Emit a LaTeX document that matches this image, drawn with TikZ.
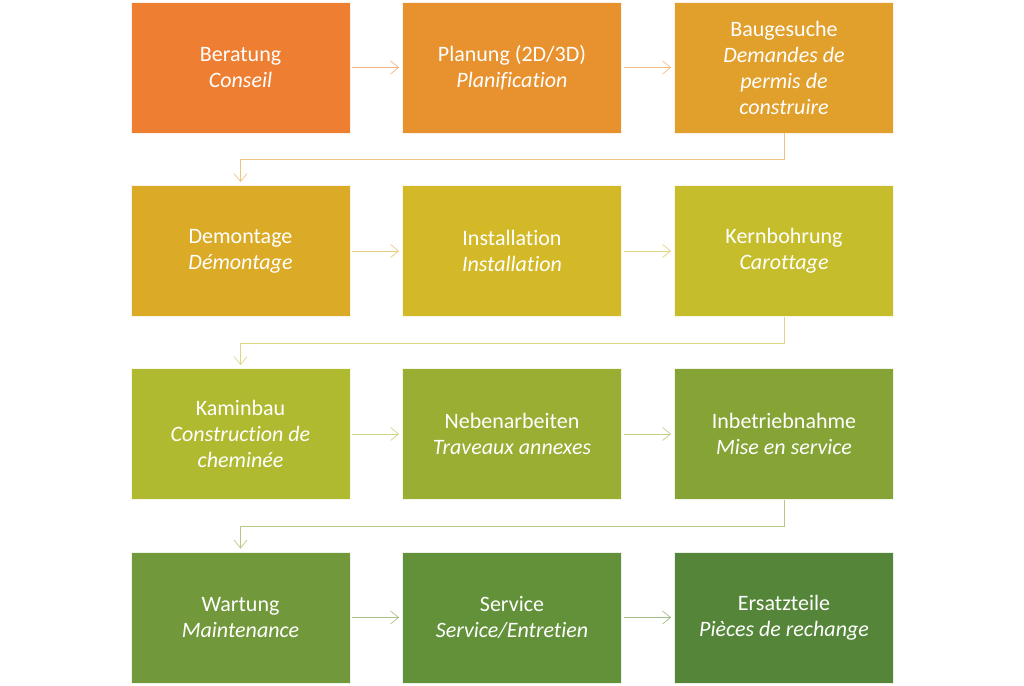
\documentclass[tikz,border=0pt]{standalone}
\usepackage{fontspec}
\setmainfont{Carlito}[Ligatures={NoCommon}]
\usetikzlibrary{arrows.meta}
\definecolor{cA}{HTML}{EE7F32}
\definecolor{cB}{HTML}{E8922F}
\definecolor{cC}{HTML}{E19F2C}
\definecolor{cD}{HTML}{DBAB27}
\definecolor{cE}{HTML}{D3B828}
\definecolor{cF}{HTML}{C6BD2D}
\definecolor{cG}{HTML}{B0BA30}
\definecolor{cH}{HTML}{99AE33}
\definecolor{cI}{HTML}{86A436}
\definecolor{cJ}{HTML}{71983A}
\definecolor{cK}{HTML}{63913A}
\definecolor{cL}{HTML}{548539}
\begin{document}
\begin{tikzpicture}[x=1pt, y=1pt,
  box/.style={fill=#1, draw=#1!12!white, line width=0.8pt, minimum width=219pt, minimum height=131pt,
    inner sep=0pt, text=white, align=center, font=\fontsize{22}{26}\selectfont},
  link/.style={draw=#1!60!white, line width=0.7pt, shorten <=2pt, shorten >=3pt,
    -{Straight Barb[length=8pt,width=13pt]}}]
\useasboundingbox (0,0) rectangle (1024,685);
\draw(240.5,617.5) node[box=cA] (b1) {Beratung\\\textit{Conseil}};
\draw(512,617.5) node[box=cB] (b2) {Planung (2D/3D)\\\textit{Planification}};
\draw(784,617.5) node[box=cC] (b3) {Baugesuche\\\textit{Demandes de}\\\textit{permis de}\\\textit{construire}};
\draw(240.5,434) node[box=cD] (b4) {Demontage\\\textit{Démontage}};
\draw(512,434) node[box=cE] (b5) {Installation\\\textit{Installation}};
\draw(784,434) node[box=cF] (b6) {Kernbohrung\\\textit{Carottage}};
\draw(240.5,251) node[box=cG] (b7) {Kaminbau\\\textit{Construction de}\\\textit{cheminée}};
\draw(512,251) node[box=cH] (b8) {Nebenarbeiten\\\textit{Traveaux annexes}};
\draw(784,251) node[box=cI] (b9) {Inbetriebnahme\\\textit{Mise en service}};
\draw(240.5,67.5) node[box=cJ] (b10) {Wartung\\\textit{Maintenance}};
\draw(512,67.5) node[box=cK] (b11) {Service\\\textit{Service/Entretien}};
\draw(784,67.5) node[box=cL] (b12) {Ersatzteile\\\textit{Pièces de rechange}};
\foreach \a/\b/\c in {b1/b2/cA, b2/b3/cB, b4/b5/cD, b5/b6/cE, b7/b8/cG, b8/b9/cH, b10/b11/cJ, b11/b12/cK}
  \draw[link=\c] (\a) -- (\b);
\foreach \a/\b/\c in {b3/b4/cC, b6/b7/cF, b9/b10/cI}
  \draw[link=\c, shorten <=0pt] (\a.south) -- ++(0,-26) -| (\b.north);
\end{tikzpicture}
\end{document}
